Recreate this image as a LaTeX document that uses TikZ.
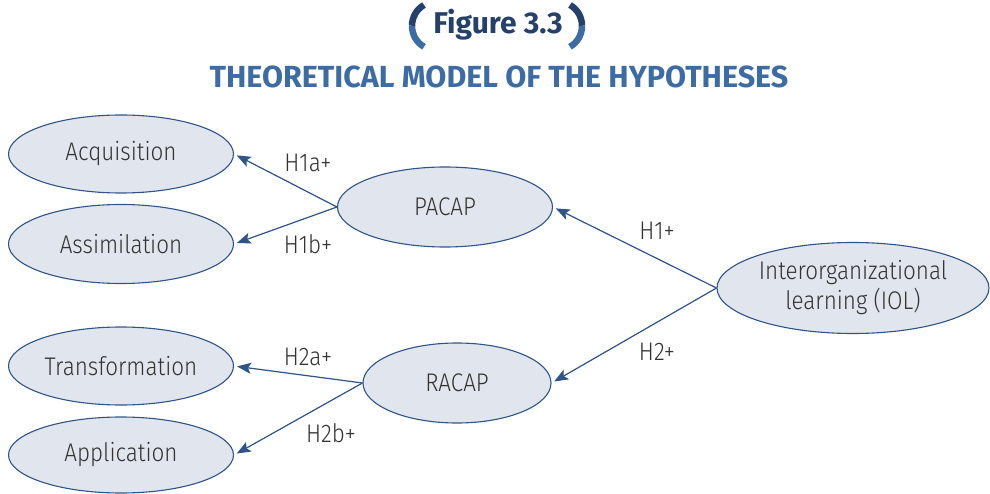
\documentclass[tikz,border=0pt]{standalone}
\usepackage{fontspec}
\setmainfont{Fira Sans}
\newfontfamily\lightfont{Fira Sans Light}[FakeStretch=0.88]
\usepackage{tikz}
\usetikzlibrary{arrows.meta,shapes.geometric}
\definecolor{modelnavy}{RGB}{36,64,107}
\definecolor{modelblue}{RGB}{60,108,163}
\definecolor{modelline}{RGB}{47,84,135}
\definecolor{modelfill}{RGB}{225,230,238}
\definecolor{modeltext}{RGB}{51,51,51}

\begin{document}
\begin{tikzpicture}[x=1pt,y=-1pt,
    construct/.style={ellipse,draw=modelline,fill=modelfill,line width=1.1pt,inner sep=0pt,text=modeltext,font=\lightfont\fontsize{25.5}{30}\selectfont,align=center},
    hyp/.style={-{Stealth[length=14pt,width=11pt,inset=3pt]},draw=modelline,fill=modelline,line width=1.2pt,shorten >=3pt},
    hyplabel/.style={text=modeltext,font=\lightfont\fontsize{25.5}{26}\selectfont,inner sep=0pt}]
  \useasboundingbox (0,0) rectangle (990,494);
  % title
  \draw[modelnavy,line width=6.5pt] (424,5) arc[start angle=120,end angle=180,radius=24pt];
  \draw[modelblue,line width=6.5pt] (412,26) arc[start angle=180,end angle=240,radius=24pt];
  \draw[modelnavy,line width=6.5pt] (570,5) arc[start angle=60,end angle=0,radius=24pt];
  \draw[modelblue,line width=6.5pt] (582,26) arc[start angle=0,end angle=-60,radius=24pt];
  \node[anchor=base,text=modelnavy,font=\fontsize{30}{32}\selectfont\bfseries] (figno) at (498,34) {Figure 3.3};
  \node[anchor=base,text=modelblue,font=\fontsize{30.5}{34}\selectfont\bfseries] (title) at (499,88) {THEORETICAL MODEL OF THE HYPOTHESES};
  % constructs
  \node[construct,minimum width=225pt,minimum height=78pt] (acq) at (121,154) {Acquisition};
  \node[construct,minimum width=225pt,minimum height=79pt] (assim) at (121,244) {Assimilation};
  \node[construct,minimum width=225pt,minimum height=78pt] (trans) at (121,366) {Transformation};
  \node[construct,minimum width=225pt,minimum height=76pt] (appl) at (121,455) {Application};
  \node[construct,minimum width=215pt,minimum height=80pt] (pacap) at (445,207) {PACAP};
  \node[construct,minimum width=188pt,minimum height=80pt] (racap) at (457,383) {RACAP};
  \node[construct,minimum width=272pt,minimum height=91pt] (iol) at (853,288) {Interorganizational\\learning (IOL)};
  % hypotheses
  \draw[hyp] (iol.west) -- (pacap.east);
  \draw[hyp] (iol.west) -- (racap.east);
  \draw[hyp] (pacap.west) -- (acq.east);
  \draw[hyp] (pacap.west) -- (assim.east);
  \draw[hyp] (racap.west) -- (trans.east);
  \draw[hyp] (racap.west) -- (appl.east);
  \node[hyplabel] (h1) at (657,231) {H1+};
  \node[hyplabel] (h2) at (657,352) {H2+};
  \node[hyplabel] (h1a) at (308,163) {H1a+};
  \node[hyplabel] (h1b) at (308,244) {H1b+};
  \node[hyplabel] (h2a) at (308,357) {H2a+};
  \node[hyplabel] (h2b) at (331,433) {H2b+};
\end{tikzpicture}
\end{document}
